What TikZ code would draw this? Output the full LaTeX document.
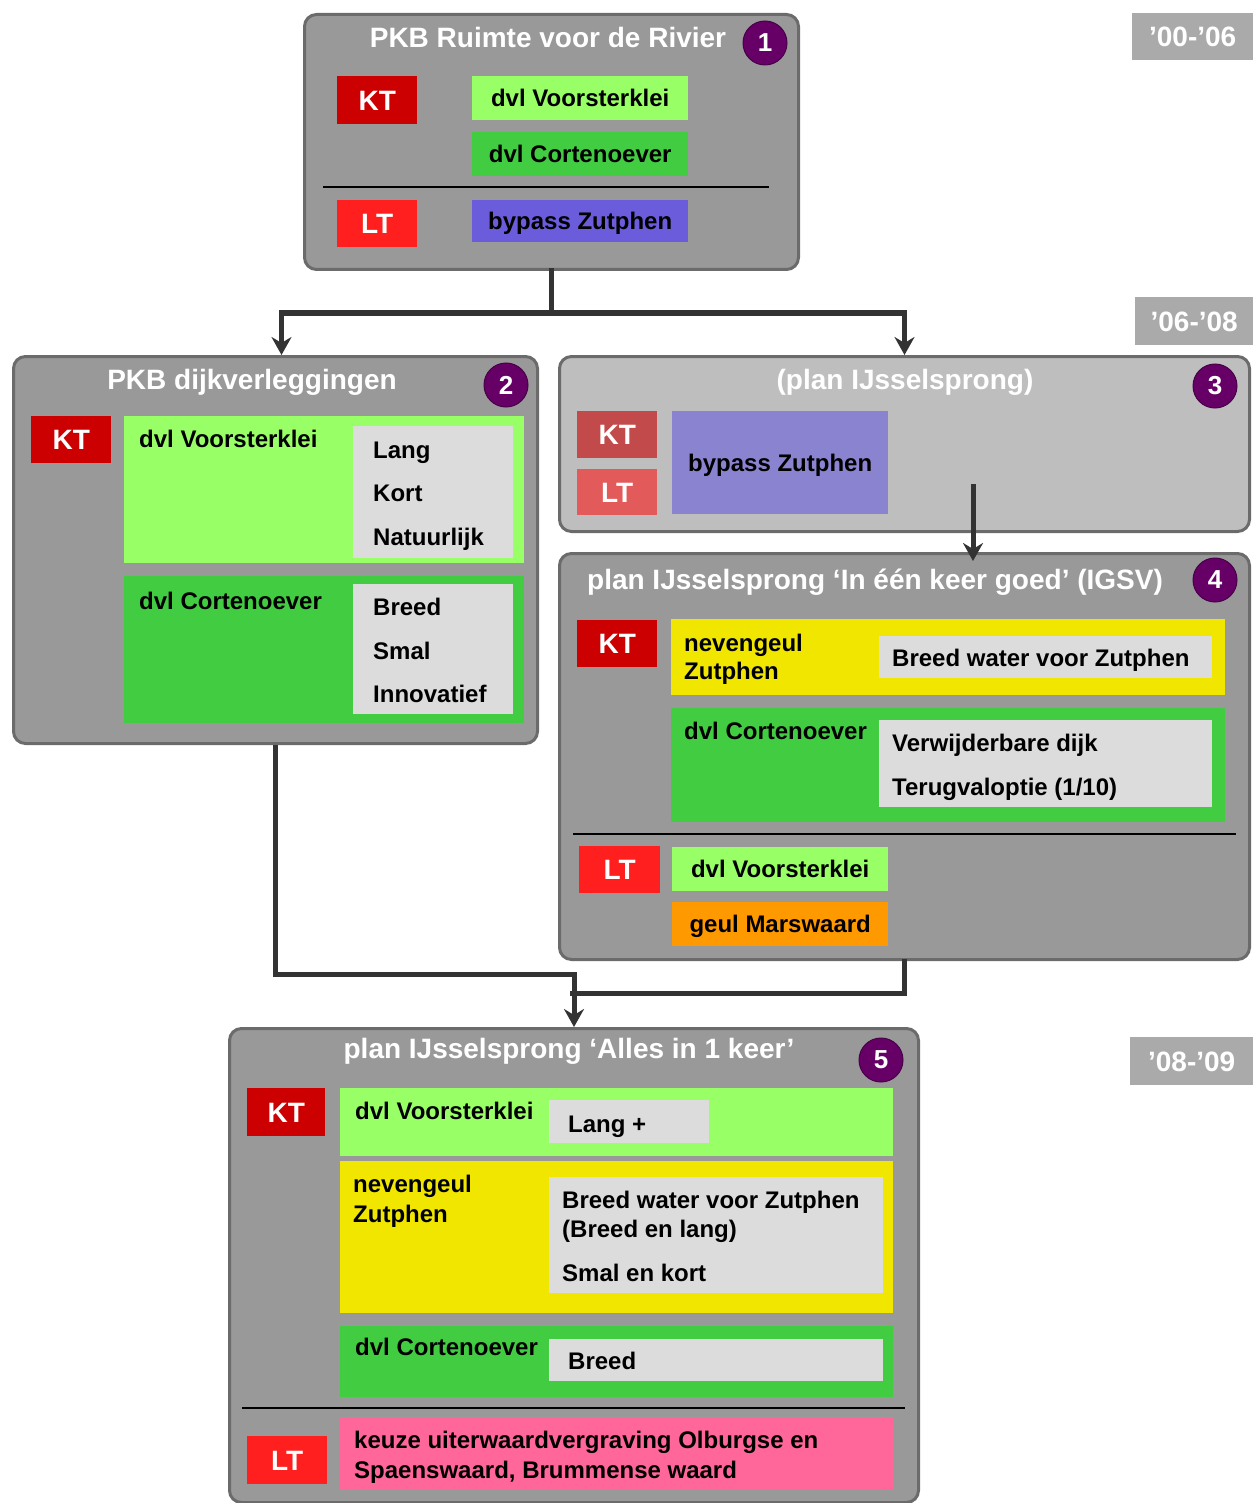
\documentclass[tikz,border=0pt]{standalone}
\usepackage{fontspec}
\setmainfont{Liberation Sans}
\usetikzlibrary{arrows.meta}
\definecolor{panelgray}{HTML}{999999}
\definecolor{panelborder}{HTML}{6B6B6B}
\definecolor{lightpanel}{HTML}{BEBEBE}
\definecolor{ktred}{HTML}{CC0000}
\definecolor{ltred}{HTML}{FF1F1F}
\definecolor{ktmuted}{HTML}{C24A4A}
\definecolor{ltmuted}{HTML}{E25A5A}
\definecolor{ltgreen}{HTML}{99FF66}
\definecolor{midgreen}{HTML}{42CC42}
\definecolor{bluepurple}{HTML}{6A5CDB}
\definecolor{lavender}{HTML}{8A84D0}
\definecolor{optgray}{HTML}{DCDCDC}
\definecolor{yellowc}{HTML}{F0E600}
\definecolor{orangec}{HTML}{FF9900}
\definecolor{pinkc}{HTML}{FF6699}
\definecolor{numpurple}{HTML}{660066}
\definecolor{yeargray}{HTML}{AAAAAA}
\definecolor{connc}{HTML}{333333}
\tikzset{
  panel/.style={draw=panelborder, line width=3pt, fill=panelgray, rounded corners=12pt, anchor=north west, inner sep=0pt},
  rb/.style={anchor=north west, inner sep=0pt, draw=none, text=black, font=\bfseries\fontsize{24}{28}\selectfont, text height=17pt, text depth=0pt},
  tag/.style={rb, text=white, font=\bfseries\fontsize{28}{32}\selectfont, text height=20pt},
  txt/.style={font=\bfseries\fontsize{24}{28}\selectfont, text=black, inner sep=0pt, anchor=base west},
  ttl/.style={font=\bfseries\fontsize{28}{32}\selectfont, text=white, inner sep=0pt, anchor=base},
  num/.style={circle, fill=numpurple, draw=numpurple!70!black, line width=1pt, minimum size=44pt, inner sep=0pt, text=white, font=\bfseries\fontsize{26}{30}\selectfont},
  yr/.style={rb, fill=yeargray, text=white, font=\bfseries\fontsize{28}{32}\selectfont, text height=20pt},
  sep/.style={draw=black, line width=2.5pt},
  conn/.style={draw=connc, line width=5pt},
  arr/.style={conn, -{Stealth[length=18pt,width=20pt,inset=6pt]}}
}
\begin{document}
\begin{tikzpicture}[x=1pt,y=-1pt]
\useasboundingbox[fill=white] (0,0) rectangle (1253,1503);

% ---------- Box 1 ----------
\node[panel, minimum width=494pt, minimum height=255pt] (b1) at (303,13) {};
\node[ttl] (b1t) at (548,48) {PKB Ruimte voor de Rivier};
\node[num] (n1) at (765,43) {1};
\node[tag, fill=ktred, minimum width=80pt, minimum height=48pt] (b1kt) at (337,76) {KT};
\node[rb, fill=ltgreen, minimum width=216pt, minimum height=44pt] (b1v) at (472,76) {dvl Voorsterklei};
\node[rb, fill=midgreen, minimum width=216pt, minimum height=44pt] (b1c) at (472,132) {dvl Cortenoever};
\draw[sep] (323,187) -- (769,187);
\node[tag, fill=ltred, minimum width=80pt, minimum height=47pt] (b1lt) at (337,200) {LT};
\node[rb, fill=bluepurple, minimum width=216pt, minimum height=42pt] (b1b) at (472,200) {bypass Zutphen};

% ---------- Box 2 ----------
\node[panel, minimum width=524pt, minimum height=387pt] (b2) at (12,355) {};
\node[ttl] (b2t) at (252,389) {PKB dijkverleggingen};
\node[num] (n2) at (506,385) {2};
\node[tag, fill=ktred, minimum width=80pt, minimum height=47pt] (b2kt) at (31,416) {KT};
\node[rb, fill=ltgreen, minimum width=400pt, minimum height=147pt] (b2v) at (124,416) {};
\node[rb, fill=optgray, minimum width=160pt, minimum height=132pt] (b2vo) at (353,426) {};
\node[txt] (b2vt) at (139,447) {dvl Voorsterklei};
\node[txt] (b2o1) at (373,458) {Lang};
\node[txt] (b2o2) at (373,501) {Kort};
\node[txt] (b2o3) at (373,545) {Natuurlijk};
\node[rb, fill=midgreen, minimum width=400pt, minimum height=147pt] (b2c) at (124,576) {};
\node[rb, fill=optgray, minimum width=160pt, minimum height=130pt] (b2co) at (353,584) {};
\node[txt] (b2ct) at (139,609) {dvl Cortenoever};
\node[txt] (b2o4) at (373,615) {Breed};
\node[txt] (b2o5) at (373,659) {Smal};
\node[txt] (b2o6) at (373,702) {Innovatief};

% ---------- Box 3 ----------
\node[panel, fill=lightpanel, minimum width=690pt, minimum height=175pt] (b3) at (558,355) {};
\node[ttl] (b3t) at (905,389) {(plan IJsselsprong)};
\node[num] (n3) at (1215,386) {3};
\node[tag, fill=ktmuted, minimum width=80pt, minimum height=47pt] (b3kt) at (577,411) {KT};
\node[tag, fill=ltmuted, minimum width=80pt, minimum height=46pt] (b3lt) at (577,469) {LT};
\node[rb, fill=lavender, minimum width=216pt, minimum height=103pt] (b3b) at (672,411) {bypass Zutphen};

% ---------- Box 4 ----------
\node[panel, minimum width=690pt, minimum height=406pt] (b4) at (558,552) {};
\node[ttl] (b4t) at (875,589) {plan IJsselsprong ‘In één keer goed’ (IGSV)};
\node[num] (n4) at (1215,580) {4};
\node[tag, fill=ktred, minimum width=80pt, minimum height=47pt] (b4kt) at (577,620) {KT};
\node[rb, fill=yellowc, minimum width=554pt, minimum height=76pt] (b4n) at (671,619) {};
\node[txt] (b4n1) at (684,651) {nevengeul};
\node[txt] (b4n2) at (684,679) {Zutphen};
\node[rb, fill=optgray, minimum width=333pt, minimum height=42pt] (b4no) at (879,636) {};
\node[txt] (b4o1) at (892,666) {Breed water voor Zutphen};
\node[rb, fill=midgreen, minimum width=554pt, minimum height=114pt] (b4c) at (671,708) {};
\node[txt] (b4ct) at (684,739) {dvl Cortenoever};
\node[rb, fill=optgray, minimum width=333pt, minimum height=87pt] (b4co) at (879,720) {};
\node[txt] (b4o2) at (892,751) {Verwijderbare dijk};
\node[txt] (b4o3) at (892,795) {Terugvaloptie (1/10)};
\draw[sep] (573,834) -- (1236,834);
\node[tag, fill=ltred, minimum width=81pt, minimum height=47pt] (b4lt) at (579,846) {LT};
\node[rb, fill=ltgreen, minimum width=216pt, minimum height=44pt] (b4v) at (672,847) {dvl Voorsterklei};
\node[rb, fill=orangec, minimum width=216pt, minimum height=44pt] (b4g) at (672,902) {geul Marswaard};

% ---------- Box 5 ----------
\node[panel, minimum width=689pt, minimum height=474pt] (b5) at (228,1027) {};
\node[ttl] (b5t) at (569,1058) {plan IJsselsprong ‘Alles in 1 keer’};
\node[num] (n5) at (881,1060) {5};
\node[tag, fill=ktred, minimum width=78pt, minimum height=48pt] (b5kt) at (247,1088) {KT};
\node[rb, fill=ltgreen, minimum width=553pt, minimum height=68pt] (b5v) at (340,1088) {};
\node[txt] (b5vt) at (355,1119) {dvl Voorsterklei};
\node[rb, fill=optgray, minimum width=160pt, minimum height=43pt] (b5vo) at (549,1100) {};
\node[txt] (b5o1) at (568,1132) {Lang +};
\node[rb, fill=yellowc, minimum width=553pt, minimum height=152pt] (b5n) at (340,1161) {};
\node[txt] (b5n1) at (353,1192) {nevengeul};
\node[txt] (b5n2) at (353,1222) {Zutphen};
\node[rb, fill=optgray, minimum width=334pt, minimum height=116pt] (b5no) at (549,1177) {};
\node[txt] (b5o2) at (562,1208) {Breed water voor Zutphen};
\node[txt] (b5o3) at (562,1237) {(Breed en lang)};
\node[txt] (b5o4) at (562,1281) {Smal en kort};
\node[rb, fill=midgreen, minimum width=553pt, minimum height=71pt] (b5c) at (340,1326) {};
\node[txt] (b5ct) at (355,1355) {dvl Cortenoever};
\node[rb, fill=optgray, minimum width=334pt, minimum height=42pt] (b5co) at (549,1339) {};
\node[txt] (b5o5) at (568,1369) {Breed};
\draw[sep] (242,1408) -- (905,1408);
\node[rb, fill=pinkc, minimum width=553pt, minimum height=73pt] (b5k) at (340,1417) {};
\node[txt] (b5k1) at (354,1448) {keuze uiterwaardvergraving Olburgse en};
\node[txt] (b5k2) at (354,1478) {Spaenswaard, Brummense waard};
\node[tag, fill=ltred, minimum width=80pt, minimum height=48pt] (b5lt) at (247,1436) {LT};

% ---------- Year labels ----------
\node[yr, minimum width=121pt, minimum height=47pt] (y1) at (1132,13) {’00-’06};
\node[yr, minimum width=118pt, minimum height=48pt] (y2) at (1135,297) {’06-’08};
\node[yr, minimum width=123pt, minimum height=48pt] (y3) at (1130,1037) {’08-’09};

% ---------- Connectors ----------
\draw[conn, line cap=rect] (b1.south) -- ++(0,42) coordinate (j1);
\draw[arr] (j1) -| ([xshift=6pt]b2.north);
\draw[arr] (j1) -| (b3.north);
\coordinate (a34) at (973,484);
\draw[arr, shorten >=-9pt] (a34) -- (a34 |- b4.north);
\draw[arr] (b2.south) -- ++(0,229) -| (b5.north);
\coordinate (m45) at (572.5,993);
\draw[conn, line cap=rect] (b4.south) |- (m45);
\end{tikzpicture}
\end{document}
